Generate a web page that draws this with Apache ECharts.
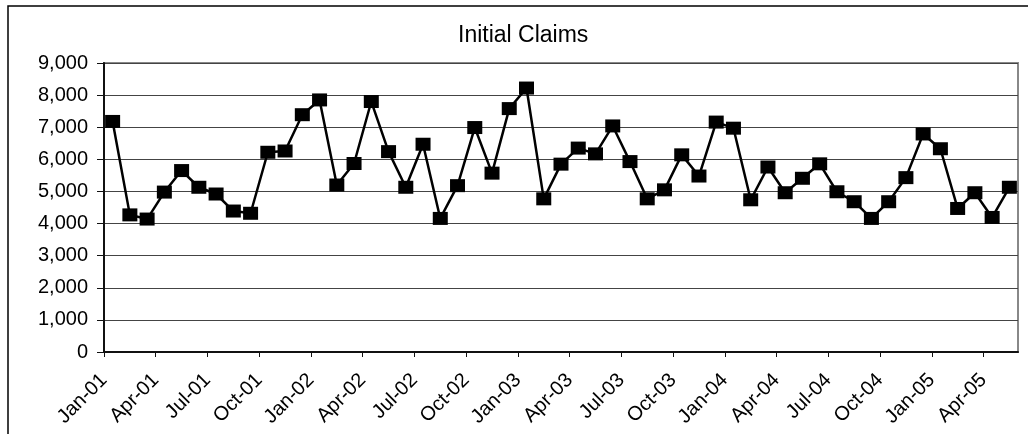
<!DOCTYPE html>
<html>
<head>
<meta charset="utf-8">
<script src="https://cdn.jsdelivr.net/npm/echarts@6/dist/echarts.min.js"></script>
<style>
  html, body { margin: 0; padding: 0; background: #fff; }
  #chart { width: 1028px; height: 434px; }
</style>
</head>
<body>
<div id="chart"></div>
<script>
// months on the category axis (one point per month)
const months = [
  'Jan-01', 'Feb-01', 'Mar-01', 'Apr-01', 'May-01', 'Jun-01', 'Jul-01', 'Aug-01', 'Sep-01', 'Oct-01', 'Nov-01', 'Dec-01',
  'Jan-02', 'Feb-02', 'Mar-02', 'Apr-02', 'May-02', 'Jun-02', 'Jul-02', 'Aug-02', 'Sep-02', 'Oct-02', 'Nov-02', 'Dec-02',
  'Jan-03', 'Feb-03', 'Mar-03', 'Apr-03', 'May-03', 'Jun-03', 'Jul-03', 'Aug-03', 'Sep-03', 'Oct-03', 'Nov-03', 'Dec-03',
  'Jan-04', 'Feb-04', 'Mar-04', 'Apr-04', 'May-04', 'Jun-04', 'Jul-04', 'Aug-04', 'Sep-04', 'Oct-04', 'Nov-04', 'Dec-04',
  'Jan-05', 'Feb-05', 'Mar-05', 'Apr-05', 'May-05'
]

// Initial Claims
const claims = [
  7180, 4270, 4140, 4980, 5650, 5130, 4920, 4390, 4320, 6220, 6260, 7390,
  7850, 5200, 5870, 7800, 6240, 5130, 6470, 4160, 5180, 6990, 5570, 7580,
  8220, 4770, 5850, 6350, 6170, 7040, 5930, 4770, 5050, 6140, 5480, 7160,
  6970, 4740, 5760, 4960, 5410, 5860, 4990, 4680, 4160, 4680, 5430, 6790,
  6330, 4470, 4960, 4190, 5130
]

// labels sit on the boundaries between months, so one extra at the end
const tickLabels = months.concat(['Jun-05'])

const yTicks = [0, 1000, 2000, 3000, 4000, 5000, 6000, 7000, 8000, 9000]

const font = "'Liberation Sans', Arial, sans-serif"

var myChart = echarts.init(document.getElementById('chart'))

var option = {
  animation: false,
  backgroundColor: '#fff',
  title: {
    text: 'Initial Claims',
    left: 453,
    top: 19,
    textStyle: { fontFamily: font, fontSize: 23, fontWeight: 'normal', color: '#000' }
  },
  graphic: [
    {
      // outer chart frame
      type: 'rect',
      shape: { x: 8, y: 6, width: 1030, height: 440 },
      style: { fill: 'none', stroke: '#000', lineWidth: 1.5 },
      silent: true
    }
  ],
  grid: {
    left: 104,
    top: 63,
    right: 10,
    bottom: 82,
    show: true,
    borderColor: '#888',
    borderWidth: 2
  },
  xAxis: [
    {
      type: 'category',
      data: months,
      boundaryGap: true,
      axisLine: { lineStyle: { color: '#111', width: 2 } },
      axisTick: { show: false },
      axisLabel: { show: false },
      splitLine: { show: false }
    },
    {
      type: 'category',
      data: tickLabels,
      boundaryGap: false,
      position: 'bottom',
      axisLine: { show: false },
      axisTick: { show: true, interval: 2, length: 5, lineStyle: { color: '#111', width: 1 } },
      axisLabel: {
        interval: 2,
        rotate: 45,
        margin: 25,
        color: '#000',
        fontFamily: font,
        fontSize: 20
      },
      splitLine: { show: false }
    }
  ],
  yAxis: {
    type: 'value',
    min: yTicks[0],
    max: yTicks[yTicks.length - 1],
    interval: 1000,
    axisLine: { show: true, lineStyle: { color: '#111', width: 2 } },
    axisTick: { show: true, length: 7, lineStyle: { color: '#111', width: 1 } },
    axisLabel: {
      margin: 16,
      color: '#000',
      fontFamily: font,
      fontSize: 20,
      formatter: function (v) { return v.toLocaleString('en-US') }
    },
    splitLine: { show: true, lineStyle: { color: '#444', width: 1 } }
  },
  series: [
    {
      name: 'Initial Claims',
      type: 'line',
      xAxisIndex: 0,
      data: claims,
      symbol: 'rect',
      symbolSize: [15, 13],
      showSymbol: true,
      showAllSymbol: true,
      lineStyle: { color: '#000', width: 2.5 },
      itemStyle: { color: '#000' }
    }
  ]
}

myChart.setOption(option)
</script>
</body>
</html>
